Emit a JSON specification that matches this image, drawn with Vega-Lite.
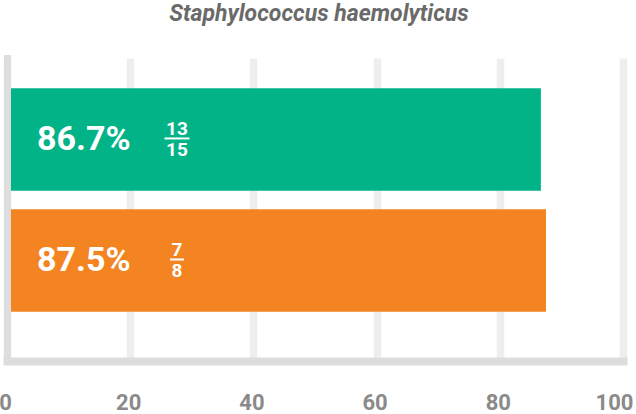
{
  "$schema": "https://vega.github.io/schema/vega-lite/v6.json",
  "description": "Staphylococcus haemolyticus percentages.",
  "autosize": {"type": "none"},
  "padding": {"left": 7, "top": 58, "right": 13, "bottom": 53},
  "width": 616,
  "height": 303,
  "background": "white",
  "title": {
    "text": "Staphylococcus haemolyticus",
    "font": "Roboto",
    "fontSize": 23,
    "fontStyle": "italic",
    "fontWeight": "bold",
    "color": "#6a6a6a",
    "anchor": "middle",
    "offset": 32,
    "dx": 4
  },
  "data": {
    "values": [
      {"group": "A", "pct": 86.67, "label": "86.7%", "num": "13", "den": "15"},
      {"group": "B", "pct": 87.5, "label": "87.5%", "num": "7", "den": "8"}
    ]
  },
  "encoding": {
    "y": {
      "field": "group",
      "type": "nominal",
      "scale": {"paddingInner": 0.153, "paddingOuter": 0.328, "align": 0.38},
      "axis": {
        "title": null,
        "labels": false,
        "ticks": false,
        "grid": false,
        "domainColor": "#dddddd",
        "domainWidth": 7,
        "domainCap": "square",
        "zindex": 1
      }
    }
  },
  "layer": [
    {
      "mark": {"type": "bar"},
      "encoding": {
        "x": {
          "field": "pct",
          "type": "quantitative",
          "scale": {"domain": [0, 100]},
          "axis": {
            "title": null,
            "values": [0, 20, 40, 60, 80, 100],
            "ticks": false,
            "grid": true,
            "gridColor": "#eeeeee",
            "gridWidth": 7.5,
            "domainColor": "#dddddd",
            "domainWidth": 8,
            "domainCap": "square",
            "labelFont": "Roboto",
            "labelFontSize": 22,
            "labelFontWeight": "bold",
            "labelColor": "#8a8a8a",
            "labelPadding": 31,
            "labelFlush": false,
            "labelOffset": {"condition": {"test": "datum.value == 100", "value": -9}, "value": -2}
          }
        },
        "color": {
          "field": "group",
          "type": "nominal",
          "scale": {"domain": ["A", "B"], "range": ["#02b388", "#f38421"]},
          "legend": null
        }
      }
    },
    {
      "mark": {
        "type": "text",
        "align": "left",
        "baseline": "alphabetic",
        "dx": 30,
        "dy": 11,
        "font": "Roboto",
        "fontSize": 34,
        "fontWeight": "bold",
        "color": "white"
      },
      "encoding": {
        "x": {"datum": 0, "type": "quantitative"},
        "text": {"field": "label"}
      }
    },
    {
      "mark": {
        "type": "text",
        "align": "center",
        "baseline": "alphabetic",
        "dx": 170,
        "dy": -4,
        "font": "Roboto",
        "fontSize": 19,
        "fontWeight": "bold",
        "color": "white"
      },
      "encoding": {
        "x": {"datum": 0, "type": "quantitative"},
        "text": {"field": "num"}
      }
    },
    {
      "mark": {
        "type": "text",
        "align": "center",
        "baseline": "alphabetic",
        "dx": 170,
        "dy": 17,
        "font": "Roboto",
        "fontSize": 19,
        "fontWeight": "bold",
        "color": "white"
      },
      "encoding": {
        "x": {"datum": 0, "type": "quantitative"},
        "text": {"field": "den"}
      }
    },
    {
      "transform": [{"calculate": "length(datum.num)", "as": "numLen"}],
      "mark": {
        "type": "tick",
        "orient": "horizontal",
        "thickness": 2,
        "xOffset": 170,
        "yOffset": -1,
        "color": "white",
        "opacity": 1
      },
      "encoding": {
        "x": {"datum": 0, "type": "quantitative"},
        "size": {
          "field": "numLen",
          "type": "quantitative",
          "scale": {"domain": [1, 2], "range": [14, 25]},
          "legend": null
        }
      }
    }
  ],
  "config": {"view": {"stroke": null}}
}
